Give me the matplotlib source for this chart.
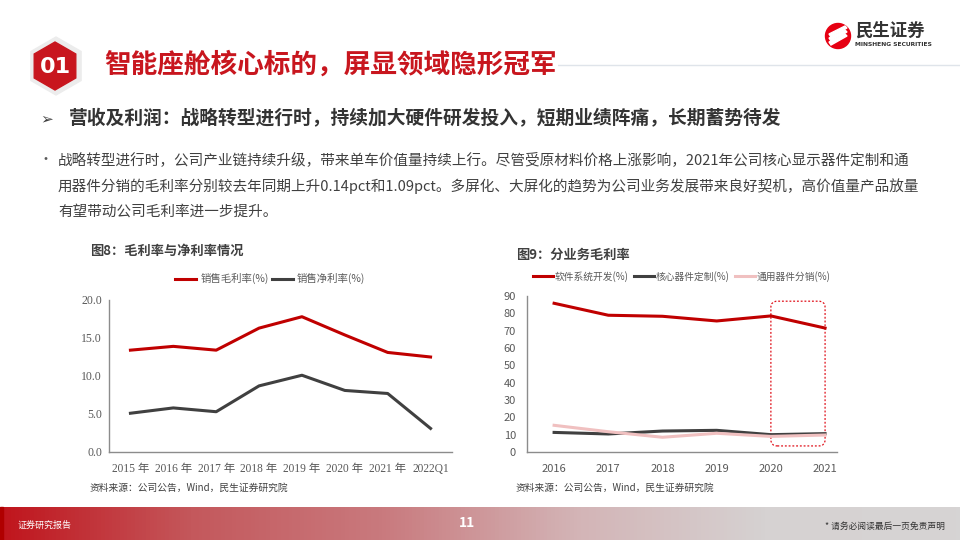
import numpy as np
import matplotlib
matplotlib.use('agg')
import matplotlib.pyplot as plt
from matplotlib.patches import RegularPolygon, Circle, FancyBboxPatch, Polygon
from matplotlib.colors import LinearSegmentedColormap

plt.rcParams['font.family'] = ['Noto Sans CJK SC', 'DejaVu Sans']

# chart 8 data
years8 = ['2015 年', '2016 年', '2017 年', '2018 年', '2019 年', '2020 年', '2021 年', '2022Q1']
gross_margin = [13.4, 13.9, 13.4, 16.3, 17.8, 15.4, 13.1, 12.5]
net_margin = [5.1, 5.8, 5.3, 8.7, 10.1, 8.1, 7.7, 3.1]

# chart 9 data
years9 = ['2016', '2017', '2018', '2019', '2020', '2021']
software = [85.8, 78.9, 78.3, 75.6, 78.5, 71.5]
core_parts = [11.3, 10.4, 12.1, 12.5, 10.0, 10.6]
general_parts = [15.4, 11.7, 8.5, 10.8, 9.0, 9.8]

RED = '#c00000'
DARK = '#404040'
PINK = '#f0c0c0'
TXT = '#595959'

fig = plt.figure(figsize=(9.6, 5.4), dpi=100)

# page overlay in pixel coords
bg = fig.add_axes([0, 0, 1, 1])
bg.set_xlim(0, 960)
bg.set_ylim(540, 0)
bg.axis('off')

# header
bg.add_patch(RegularPolygon((56, 66), 6, radius=29, color='#ececec', zorder=1))
bg.add_patch(RegularPolygon((55, 66), 6, radius=24, color='#c8161e', zorder=2))
bg.text(55, 67, '01', color='white', fontsize=16, fontweight='bold',
        ha='center', va='center', family='DejaVu Sans', zorder=3)
bg.plot([290, 960], [65, 65], color='#dfe4ea', lw=1, zorder=1)
bg.text(104, 65, '智能座舱核心标的，屏显领域隐形冠军', color='#c8161e', fontsize=19.2,
        fontweight='bold', va='center', ha='left', zorder=3,
        bbox=dict(facecolor='white', edgecolor='none', pad=1))

# logo
bg.add_patch(Circle((838, 36), 12.5, color='#e60012', zorder=2))
for dy in (-4, 0, 4):
    bg.add_patch(Polygon([[829, 38 + dy], [845, 30 + dy], [847, 32 + dy], [831, 41 + dy]],
                         closed=True, color='white', zorder=3))
bg.text(855, 31, '民生证券', fontsize=12.5, fontweight='bold', color='#333333', va='center')
bg.text(855, 45, 'MINSHENG SECURITIES', fontsize=4.3, fontweight='bold', color='#333333',
        va='center', family='DejaVu Sans')

# subheading
bg.text(40, 119, '➢', fontsize=11, color='#404040', va='center', family='DejaVu Sans')
bg.text(69, 119, '营收及利润：战略转型进行时，持续加大硬件研发投入，短期业绩阵痛，长期蓄势待发',
        fontsize=13.5, fontweight='bold', color='#333333', va='center')

body = ['战略转型进行时，公司产业链持续升级，带来单车价值量持续上行。尽管受原材料价格上涨影响，2021年公司核心显示器件定制和通',
        '用器件分销的毛利率分别较去年同期上升0.14pct和1.09pct。多屏化、大屏化的趋势为公司业务发展带来良好契机，高价值量产品放量',
        '有望带动公司毛利率进一步提升。']
bg.text(38, 160, '•', fontsize=10, color='#595959', va='center')
for i, line in enumerate(body):
    bg.text(58, 160 + 26 * i, line, fontsize=10.5, color='#404040', va='center')

# chart titles and sources
bg.text(90, 251, '图8：毛利率与净利率情况', fontsize=9.5, fontweight='bold', color='#404040', va='center')
bg.text(516, 255, '图9：分业务毛利率', fontsize=9.5, fontweight='bold', color='#404040', va='center')
bg.text(90, 488, '资料来源：公司公告，Wind，民生证券研究院', fontsize=7, color='#404040', va='center')
bg.text(516, 488, '资料来源：公司公告，Wind，民生证券研究院', fontsize=7, color='#404040', va='center')

# footer gradient
cmap = LinearSegmentedColormap.from_list('foot', ['#c0141c', '#c4585c', '#c97a7e', '#d3b4b6', '#d6d2d2', '#d6d4d4'])
grad = np.linspace(0, 1, 256).reshape(1, -1)
bg.imshow(grad, cmap=cmap, aspect='auto', extent=[0, 960, 540, 507], zorder=1)
bg.add_patch(plt.Rectangle((0, 507), 3, 33, color='#b00000', zorder=2))
bg.text(18, 525, '证券研究报告', fontsize=6.5, color='white', va='center', zorder=3)
bg.text(467, 523, '11', fontsize=10, fontweight='bold', color='white', ha='center', va='center', zorder=3)
bg.text(945, 526, '* 请务必阅读最后一页免责声明', fontsize=6.3, color='#333333', ha='right', va='center', zorder=3)
bg.set_xlim(0, 960)
bg.set_ylim(540, 0)


def style_axes(ax):
    for s in ['top', 'right']:
        ax.spines[s].set_visible(False)
    for s in ['left', 'bottom']:
        ax.spines[s].set_color('#8c8c8c')
        ax.spines[s].set_linewidth(1)
    ax.tick_params(length=0, colors=TXT)
    ax.patch.set_alpha(0)


# chart 8
ax1 = fig.add_axes([109 / 960, 88 / 540, 343 / 960, 152 / 540])
style_axes(ax1)
x8 = np.arange(len(years8))
ax1.plot(x8, gross_margin, color=RED, lw=2.2, label='销售毛利率(%)')
ax1.plot(x8, net_margin, color=DARK, lw=2.2, label='销售净利率(%)')
ax1.set_xlim(-0.5, len(years8) - 0.5)
ax1.set_ylim(0, 20)
ax1.set_yticks([0, 5, 10, 15, 20])
ax1.set_yticklabels([f'{v:.1f}' for v in [0, 5, 10, 15, 20]],
                    family=['Liberation Serif', 'Noto Sans CJK SC'], fontsize=8.5)
ax1.set_xticks(x8)
ax1.set_xticklabels(years8, family=['Liberation Serif', 'Noto Sans CJK SC'], fontsize=8.3)
ax1.tick_params(axis='x', pad=8)
ax1.tick_params(axis='y', pad=5)
ax1.legend(loc='center', bbox_to_anchor=(0.47, 1.14), ncol=2, frameon=False,
           fontsize=7.5, handlelength=2.0, columnspacing=0.3, handletextpad=0.4,
           labelcolor=TXT)

# chart 9
ax2 = fig.add_axes([527 / 960, 88 / 540, 310 / 960, 156 / 540])
style_axes(ax2)
x9 = np.arange(len(years9))
ax2.plot(x9, software, color=RED, lw=2.2, label='软件系统开发(%)')
ax2.plot(x9, core_parts, color=DARK, lw=2.2, label='核心器件定制(%)')
ax2.plot(x9, general_parts, color=PINK, lw=2.2, label='通用器件分销(%)')
ax2.set_xlim(-0.5, 5.22)
ax2.set_ylim(0, 90)
ax2.set_yticks(np.arange(0, 91, 10))
ax2.set_xticks(x9)
ax2.set_xticklabels(years9)
ax2.tick_params(labelsize=8)
ax2.tick_params(axis='x', pad=9)
ax2.tick_params(axis='y', pad=8)
ax2.legend(loc='center', bbox_to_anchor=(0.5, 1.125), ncol=3, frameon=False,
           fontsize=7, handlelength=2.0, columnspacing=0.6, handletextpad=0.2,
           labelcolor=TXT)

# highlight box around 2020-2021
box = FancyBboxPatch((x9[-2] - 0.0, 3.5), x9[-1] - x9[-2], 83.5,
                     boxstyle='round,pad=0,rounding_size=0.12', fill=False,
                     edgecolor='#e0101a', linestyle=(0, (1.5, 1.5)), lw=0.9,
                     mutation_aspect=30, clip_on=False)
ax2.add_patch(box)

fig.savefig('out.png', dpi=100)
